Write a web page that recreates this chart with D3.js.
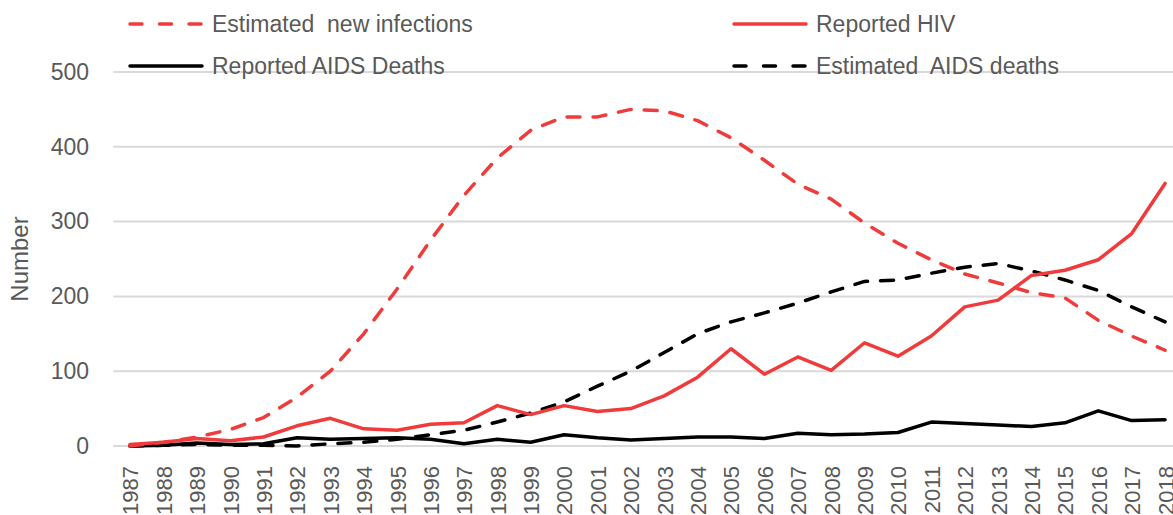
<!DOCTYPE html>
<html lang="en">
<head>
    <meta charset="UTF-8">
    <script src="https://cdn.jsdelivr.net/npm/d3@7"></script>
    <style>
        body { margin: 0; background: #fff; }
        svg { display: block; font-family: "Liberation Sans", Arial, sans-serif; }
        .axis text { fill: #595959; }
    </style>
</head>
<body>
<script>
    // years on the category axis
    var years = d3.range(1987, 2019).map(String);

    var estNewInfections = [0, 5, 12, 22, 38, 65, 100, 150, 210, 275, 335, 385, 422, 440, 440, 450,
        448, 435, 412, 382, 350, 330, 298, 271, 249, 230, 218, 205, 198, 168, 147, 128];
    var reportedHIV = [2, 5, 10, 7, 12, 27, 37, 23, 21, 29, 31, 54, 42, 54, 46, 50,
        67, 92, 130, 96, 119, 101, 138, 120, 147, 186, 195, 228, 235, 249, 284, 351];
    var reportedAidsDeaths = [0, 1, 4, 2, 3, 11, 9, 10, 11, 9, 3, 9, 5, 15, 11, 8,
        10, 12, 12, 10, 17, 15, 16, 18, 32, 30, 28, 26, 31, 47, 34, 35];
    var estAidsDeaths = [0, 1, 2, 1, 1, 0, 3, 5, 9, 15, 21, 32, 44, 59, 80, 100,
        125, 150, 166, 178, 191, 206, 220, 222, 231, 239, 244, 234, 222, 208, 186, 166];

    var yTicks = [0, 100, 200, 300, 400, 500];

    var series = [
        {name: "Estimated  new infections", values: estNewInfections, color: "#ef3b3b", dash: true, col: 0, row: 0},
        {name: "Reported HIV", values: reportedHIV, color: "#ef3b3b", dash: false, col: 1, row: 0},
        {name: "Reported AIDS Deaths", values: reportedAidsDeaths, color: "#000", dash: false, col: 0, row: 1},
        {name: "Estimated  AIDS deaths", values: estAidsDeaths, color: "#000", dash: true, col: 1, row: 1}
    ];

    var W = 1173, H = 515;
    var left = 113.3, step = 33.39;

    var svg = d3.select("body").append("svg")
        .attr("width", W)
        .attr("height", H);

    var x = d3.scalePoint()
        .domain(years)
        .range([left, left + step * years.length])
        .padding(0.5);

    var y = d3.scaleLinear()
        .domain([0, 500])
        .range([446, 72]);

    // gridlines
    svg.append("g")
        .selectAll("line")
        .data(yTicks)
        .enter()
        .append("line")
        .attr("x1", left)
        .attr("x2", left + step * years.length)
        .attr("y1", d => y(d))
        .attr("y2", d => y(d))
        .attr("stroke", "#d9d9d9")
        .attr("stroke-width", 2);

    // y axis labels
    var yAxis = d3.axisLeft(y).tickValues(yTicks).tickSize(0).tickPadding(0);
    svg.append("g")
        .attr("class", "axis")
        .attr("transform", "translate(89,0)")
        .call(yAxis)
        .call(g => g.select(".domain").remove())
        .selectAll("text")
        .attr("font-size", 23)
        .attr("font-family", "Liberation Sans, Arial, sans-serif");

    // x axis labels, rotated
    var xAxis = d3.axisBottom(x).tickSize(0).tickPadding(0);
    svg.append("g")
        .attr("class", "axis")
        .attr("transform", "translate(0,466)")
        .call(xAxis)
        .call(g => g.select(".domain").remove())
        .selectAll("text")
        .attr("font-size", 22)
        .attr("font-family", "Liberation Sans, Arial, sans-serif")
        .attr("text-anchor", "end")
        .attr("dy", "0.36em")
        .attr("transform", "rotate(-90)");

    svg.append("text")
        .attr("transform", "translate(28,259) rotate(-90)")
        .attr("text-anchor", "middle")
        .attr("font-size", 24)
        .attr("fill", "#595959")
        .text("Number");

    var line = d3.line()
        .x((d, i) => x(years[i]))
        .y(d => y(d));

    // draw order: solid black, dashed black, solid red, dashed red
    var order = [2, 3, 1, 0];
    order.forEach(function (k) {
        var s = series[k];
        svg.append("path")
            .datum(s.values)
            .attr("d", line)
            .attr("fill", "none")
            .attr("stroke", s.color)
            .attr("stroke-width", 3.5)
            .attr("stroke-linejoin", "round")
            .attr("stroke-linecap", "round")
            .attr("stroke-dasharray", s.dash ? "13,13" : null);
    });

    // legend
    var legend = svg.append("g")
        .selectAll("g")
        .data(series)
        .enter()
        .append("g")
        .attr("transform", d => "translate(" + (d.col ? 732 : 128) + "," + (d.row ? 66 : 24) + ")");

    legend.append("line")
        .attr("x1", 2)
        .attr("x2", 74)
        .attr("stroke", d => d.color)
        .attr("stroke-width", 3.5)
        .attr("stroke-linecap", "round")
        .attr("stroke-dasharray", d => d.dash ? "12,17.5" : null);

    legend.append("text")
        .attr("x", 84)
        .attr("dy", "0.36em")
        .attr("font-size", 23)
        .attr("fill", "#595959")
        .style("white-space", "pre")
        .text(d => d.name);
</script>
</body>
</html>
